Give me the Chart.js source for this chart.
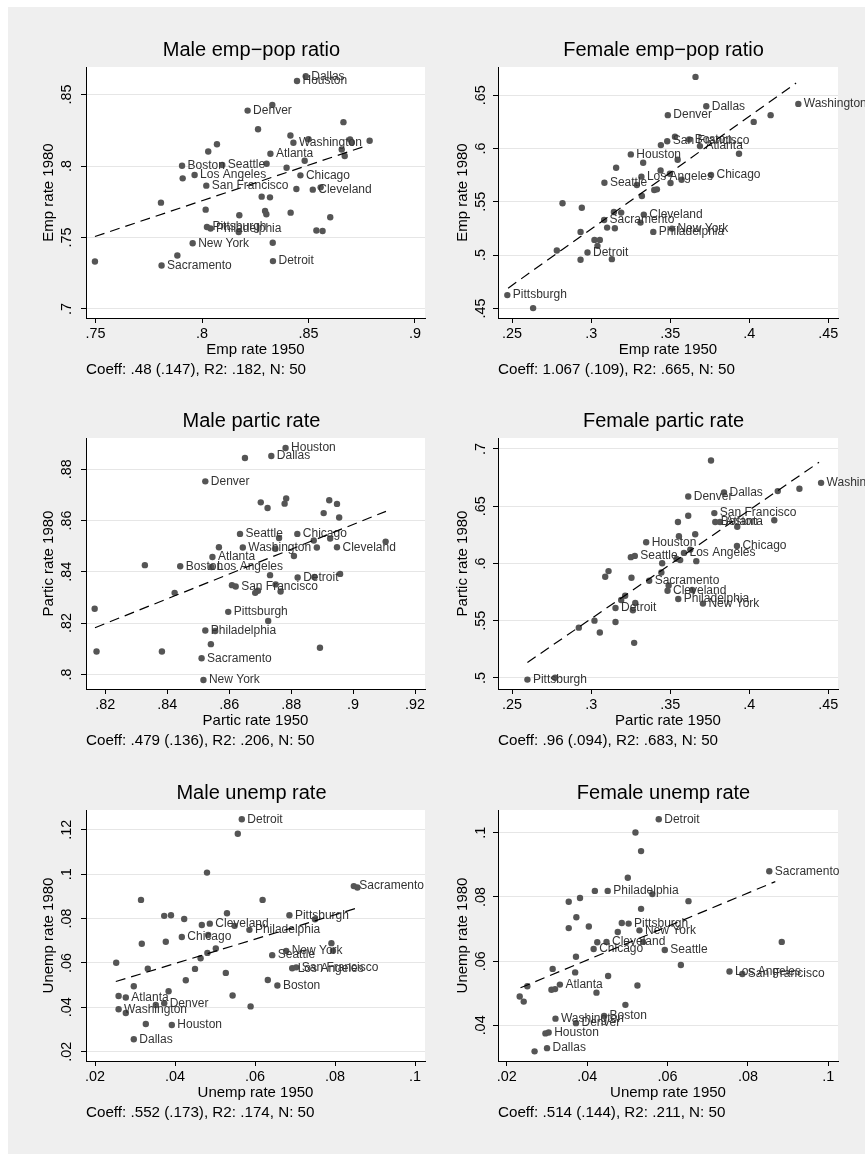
<!DOCTYPE html>
<html>
<head>
<meta charset="utf-8">
<script src="https://cdn.jsdelivr.net/npm/chart.js@4.4.1/dist/chart.umd.min.js"></script>
<style>
body { margin: 0; background: #fff; }
#fondo { position: absolute; left: 8px; top: 7px; width: 857px; height: 1147px; background: #efefef; }
canvas { position: absolute; }
</style>
</head>
<body>
<div id="fondo"></div>
<canvas id="g1" width="440" height="380" style="left:8px;top:7px"></canvas>
<canvas id="g2" width="445" height="380" style="left:420px;top:7px"></canvas>
<canvas id="g3" width="440" height="380" style="left:8px;top:378px"></canvas>
<canvas id="g4" width="445" height="380" style="left:420px;top:378px"></canvas>
<canvas id="g5" width="440" height="380" style="left:8px;top:750px"></canvas>
<canvas id="g6" width="445" height="380" style="left:420px;top:750px"></canvas>
<script>
// ciudades con etiqueta (mismo orden en todos los paneles)
const ciudades = ["Atlanta", "Boston", "Chicago", "Cleveland", "Dallas", "Denver", "Detroit", "Houston",
  "Los Angeles", "New York", "Philadelphia", "Pittsburgh", "Sacramento", "San Francisco", "Seattle", "Washington"];

// Male emp-pop ratio
const p1CiudadX = [.8321, .7906, .8462, .852, .8487, .8214, .8333, .8446, .7965, .7956, .804, .8023, .781, .802, .8095, .8429];
const p1CiudadY = [.8086, .8002, .7935, .7835, .8628, .8388, .7335, .8595, .7937, .746, .7563, .7574, .7304, .7863, .8007, .8163];
const p1RestoX = [.833, .8664, .8263, .8415, .85, .8695, .8703, .8787, .8656, .867, .807, .8029, .8482, .8303, .8397, .7909, .8443,
  .8557, .828, .8319, .7807, .8017, .8296, .8302, .8175, .8416, .8602, .8172, .8537, .8566, .8332, .7884, .7497];
const p1RestoY = [.8428, .8307, .8258, .8214, .8188, .8186, .8165, .8177, .8116, .807, .8153, .8102, .8037, .8016, .7988, .7914, .7839,
  .7851, .7786, .7781, .7744, .7695, .7686, .7663, .7656, .7674, .7642, .7539, .7549, .7546, .7463, .7374, .7332];
const p1AjusteX = [.7497, .878];
const p1AjusteY = [.7507, .8146];
const p1TicksX = [.75, .8, .85, .9];
const p1TicksY = [.7, .75, .8, .85];

// Female emp-pop ratio
const p2CiudadX = [.3688, .362, .3758, .3333, .3728, .3485, .2977, .3251, .3318, .3511, .3393, .247, .3082, .3481, .3084, .431];
const p2CiudadY = [.6023, .6085, .5751, .538, .6397, .6313, .5024, .5945, .5736, .5249, .5218, .4625, .533, .6069, .5679, .6419];
const p2RestoX = [.366, .4135, .4028, .353, .3441, .3935, .3547, .3329, .3158, .3439, .3498, .3572, .3289, .3502, .3399, .3416,
  .3321, .2819, .2941, .3144, .319, .3312, .3101, .315, .2933, .3021, .3055, .304, .2783, .2933, .3131, .2633];
const p2RestoY = [.6672, .6313, .625, .611, .6032, .5951, .5895, .5867, .582, .5795, .5764, .5707, .5658, .5676, .5611, .5617,
  .5555, .5486, .5445, .5405, .5399, .5305, .5258, .5252, .5218, .5143, .5143, .5087, .5043, .4956, .4962, .4503];
const p2AjusteX = [.2475, .4296];
const p2AjusteY = [.469, .6615];
const p2TicksX = [.25, .3, .35, .4, .45];
const p2TicksY = [.45, .5, .55, .6, .65];

// Male partic rate
const p3CiudadX = [.8546, .8442, .882, .8948, .8736, .8523, .8821, .8782, .8543, .8517, .8523, .8597, .8511, .8621, .8635, .8644];
const p3CiudadY = [.8458, .8422, .8548, .8496, .8852, .8753, .8378, .8883, .8419, .7978, .8171, .8244, .8063, .8343, .8548, .8495];
const p3RestoX = [.8651, .8702, .8724, .8784, .8779, .8923, .8948, .8905, .8955, .8761, .8873, .8926, .9105, .8567, .8749, .8883,
  .8809, .8328, .8732, .8875, .8958, .8609, .875, .8693, .8684, .8766, .8424, .8166, .8726, .8555, .8541, .8172, .8383, .8893];
const p3RestoY = [.8844, .8671, .8649, .8686, .8666, .8679, .8665, .8629, .8612, .8532, .8522, .853, .8518, .8496, .849, .8495,
  .8462, .8426, .8387, .838, .8392, .8348, .8351, .8326, .8318, .8323, .8318, .8256, .8208, .8169, .8118, .8089, .8089, .8104];
const p3AjusteX = [.8167, .9106];
const p3AjusteY = [.8182, .8636];
const p3TicksX = [.82, .84, .86, .88, .9, .92];
const p3TicksY = [.8, .82, .84, .86, .88];

// Female partic rate
const p4CiudadX = [.3815, .3785, .3922, .3483, .384, .3614, .3154, .3348, .3587, .3707, .3551, .2597, .3367, .3779, .3276, .4454];
const p4CiudadY = [.6362, .6362, .6153, .5762, .662, .6585, .5611, .6185, .6092, .5649, .5689, .4985, .5849, .644, .6066, .6704];
const p4RestoX = [.3758, .4317, .418, .3614, .3549, .3924, .4158, .3658, .3555, .3627, .3251, .354, .3563, .3665, .3449, .3444,
  .311, .3089, .3255, .349, .3639, .3215, .319, .3279, .3264, .3021, .2922, .3154, .3055, .3272, .2772];
const p4RestoY = [.6899, .6652, .6632, .6417, .6362, .6321, .6377, .6255, .6237, .6121, .6055, .604, .6029, .602, .6002, .5921,
  .5933, .5884, .5875, .5808, .5768, .5718, .568, .5654, .5591, .55, .5439, .5489, .5396, .5306, .5002];
const p4AjusteX = [.2597, .4441];
const p4AjusteY = [.5135, .6884];
const p4TicksX = [.25, .3, .35, .4, .45];
const p4TicksY = [.5, .55, .6, .65, .7];

// Male unemp rate
const p5CiudadX = [.0277, .0656, .0417, .0487, .0297, .0373, .0567, .0392, .0693, .0678, .0586, .0686, .0847, .0703, .0643, .0259];
const p5CiudadY = [.0444, .0498, .0717, .0777, .0256, .0418, .1247, .032, .0576, .0654, .0749, .0815, .0946, .058, .0635, .0391];
const p5RestoX = [.0557, .048, .0856, .0315, .0619, .053, .0373, .039, .0423, .0467, .0549, .075, .0483, .0317, .0377, .0791, .0502,
  .0481, .0795, .0464, .0253, .0332, .045, .0527, .0427, .0632, .0297, .0259, .0384, .0544, .0352, .0277, .0589, .0327];
const p5RestoY = [.1182, .1007, .094, .0884, .0884, .0824, .0812, .0815, .0798, .0771, .0767, .0797, .0726, .0686, .0695, .0689, .0665,
  .0645, .0655, .0621, .0601, .0574, .0573, .0555, .0522, .0523, .0495, .0451, .0472, .0453, .041, .0374, .0404, .0325];
const p5AjusteX = [.0252, .0851];
const p5AjusteY = [.0516, .0845];
const p5TicksX = [.02, .04, .06, .08, .1];
const p5TicksY = [.02, .04, .06, .08, .1, .12];

// Female unemp rate
const p6CiudadX = [.0332, .0442, .0416, .0448, .03, .0372, .0578, .0304, .0754, .053, .0451, .0503, .0853, .0786, .0593, .0321];
const p6CiudadY = [.0527, .0429, .0638, .066, .0329, .0407, .1042, .0378, .0568, .0696, .0819, .0717, .088, .056, .0635, .0421];
const p6RestoX = [.052, .0534, .0501, .0419, .0562, .0354, .0382, .0652, .0534, .0373, .0354, .0404, .0486, .0476, .0425, .0539,
  .0884, .0372, .0633, .0314, .037, .0452, .0251, .0311, .032, .0525, .0423, .0232, .0242, .0495, .0296, .0269];
const p6RestoY = [.1001, .0943, .086, .0819, .0809, .0785, .0797, .0787, .0763, .0737, .0703, .0708, .0719, .0691, .0659, .066,
  .066, .0614, .0588, .0576, .0565, .0554, .0522, .0511, .0513, .0524, .0502, .049, .0474, .0464, .0375, .0319];
const p6AjusteX = [.0234, .0868];
const p6AjusteY = [.0517, .0848];
const p6TicksX = [.02, .04, .06, .08, .1];
const p6TicksY = [.04, .06, .08, .1];

Chart.defaults.font.family = '"Liberation Sans", Arial, Helvetica, sans-serif';
Chart.defaults.color = '#000';

const puntos = (xs, ys) => xs.map((x, i) => ({ x: x, y: ys[i] }));
const etiqueta = v => String(+v.toFixed(4)).replace(/^0\./, '.');

// fondo blanco del area de datos
const fondoBlanco = {
  id: 'fondoBlanco',
  beforeDraw(chart) {
    const a = chart.chartArea;
    chart.ctx.save();
    chart.ctx.fillStyle = '#fff';
    chart.ctx.fillRect(a.left, a.top, a.right - a.left, a.bottom - a.top);
    chart.ctx.restore();
  }
};

// nombre de la ciudad a la derecha del punto
const nombres = {
  id: 'nombres',
  afterDatasetDraw(chart, args) {
    if (args.index !== 1) return;
    const ctx = chart.ctx;
    ctx.save();
    ctx.font = '12px "Liberation Sans", Arial, sans-serif';
    ctx.fillStyle = '#333';
    ctx.textBaseline = 'middle';
    args.meta.data.forEach((pt, i) => {
      ctx.fillText(ciudades[i], pt.x + 5.5, pt.y);
    });
    ctx.restore();
  }
};

// margen derecho vacio (extra) para centrar el titulo como en el original
const columnas = [
  { padL: 50, derecha: 417, ancho: 440, tituloY: 41, padTick: 4, extra: 20 },
  { padL: 50, derecha: 418, ancho: 445, tituloY: 43, padTick: 2, extra: 19 }
];

const paneles = [
  { id: 'g1', col: 0, titulo: 'Male emp\u2212pop ratio', ejeX: 'Emp rate 1950', ejeY: 'Emp rate 1980',
    nota: 'Coeff: .48 (.147), R2: .182, N: 50', minX: .7455, maxX: .9047, minY: .6937, maxY: .8693,
    cx: p1CiudadX, cy: p1CiudadY, rx: p1RestoX, ry: p1RestoY, ax: p1AjusteX, ay: p1AjusteY, tx: p1TicksX, ty: p1TicksY },
  { id: 'g2', col: 1, titulo: 'Female emp\u2212pop ratio', ejeX: 'Emp rate 1950', ejeY: 'Emp rate 1980',
    nota: 'Coeff: 1.067 (.109), R2: .665, N: 50', minX: .2411, maxX: .4561, minY: .441, maxY: .6765,
    cx: p2CiudadX, cy: p2CiudadY, rx: p2RestoX, ry: p2RestoY, ax: p2AjusteX, ay: p2AjusteY, tx: p2TicksX, ty: p2TicksY },
  { id: 'g3', col: 0, titulo: 'Male partic rate', ejeX: 'Partic rate 1950', ejeY: 'Partic rate 1980',
    nota: 'Coeff: .479 (.136), R2: .206, N: 50', minX: .8138, maxX: .9232, minY: .7943, maxY: .8922,
    cx: p3CiudadX, cy: p3CiudadY, rx: p3RestoX, ry: p3RestoY, ax: p3AjusteX, ay: p3AjusteY, tx: p3TicksX, ty: p3TicksY },
  { id: 'g4', col: 1, titulo: 'Female partic rate', ejeX: 'Partic rate 1950', ejeY: 'Partic rate 1980',
    nota: 'Coeff: .96 (.094), R2: .683, N: 50', minX: .2411, maxX: .4561, minY: .4903, maxY: .7096,
    cx: p4CiudadX, cy: p4CiudadY, rx: p4RestoX, ry: p4RestoY, ax: p4AjusteX, ay: p4AjusteY, tx: p4TicksX, ty: p4TicksY },
  { id: 'g5', col: 0, titulo: 'Male unemp rate', ejeX: 'Unemp rate 1950', ejeY: 'Unemp rate 1980',
    nota: 'Coeff: .552 (.173), R2: .174, N: 50', minX: .01775, maxX: .1025, minY: .0158, maxY: .1289,
    cx: p5CiudadX, cy: p5CiudadY, rx: p5RestoX, ry: p5RestoY, ax: p5AjusteX, ay: p5AjusteY, tx: p5TicksX, ty: p5TicksY },
  { id: 'g6', col: 1, titulo: 'Female unemp rate', ejeX: 'Unemp rate 1950', ejeY: 'Unemp rate 1980',
    nota: 'Coeff: .514 (.144), R2: .211, N: 50', minX: .0178, maxX: .1024, minY: .0289, maxY: .1071,
    cx: p6CiudadX, cy: p6CiudadY, rx: p6RestoX, ry: p6RestoY, ax: p6AjusteX, ay: p6AjusteY, tx: p6TicksX, ty: p6TicksY }
];

const marca = { pointRadius: 3.2, pointBackgroundColor: '#555', pointBorderWidth: 0, clip: false };

paneles.forEach(p => {
  const c = columnas[p.col];
  const alto = 380;
  new Chart(document.getElementById(p.id), {
    type: 'scatter',
    data: {
      datasets: [
        { data: puntos(p.rx, p.ry), order: 3, ...marca },
        { data: puntos(p.cx, p.cy), order: 2, ...marca },
        { data: puntos(p.ax, p.ay), order: 1, showLine: true, pointRadius: 0, borderColor: '#000',
          borderWidth: 1.2, borderDash: [10, 6], clip: false }
      ]
    },
    options: {
      responsive: false,
      animation: false,
      devicePixelRatio: 1,
      events: [],
      layout: { padding: { left: c.padL, right: c.ancho - c.derecha - c.extra, top: 31.8, bottom: alto - 311 - 42 - 18.82 } },
      plugins: {
        legend: { display: false },
        tooltip: { enabled: false },
        title: { display: true, text: p.titulo, font: { size: 20, weight: 'normal' },
          padding: { top: 0, bottom: 4.2 } },
        subtitle: { display: true, text: p.nota, position: 'bottom', fullSize: false, align: 'start',
          font: { size: 15.2 }, padding: { top: 0.58, bottom: 0 } }
      },
      scales: {
        x: {
          min: p.minX, max: p.maxX,
          afterBuildTicks: s => { s.ticks = p.tx.map(v => ({ value: v })); },
          afterFit: s => { s.height = 42; },
          grid: { drawOnChartArea: false, tickLength: 5, tickColor: '#000', tickWidth: 1 },
          border: { color: '#000', width: 1 },
          ticks: { callback: etiqueta, font: { size: 14.4 }, padding: 2.8, maxRotation: 0, autoSkip: false },
          title: { display: true, text: p.ejeX, font: { size: 15 }, padding: { top: 0, bottom: 1.3 } }
        },
        y: {
          min: p.minY, max: p.maxY,
          afterBuildTicks: s => { s.ticks = p.ty.map(v => ({ value: v })); },
          afterFit: s => { s.width = 78 - c.padL; },
          grid: { color: '#e6e6e6', lineWidth: 1, tickLength: 5, tickColor: '#000', tickWidth: 1 },
          border: { color: '#000', width: 1 },
          ticks: { callback: etiqueta, font: { size: 14.4 }, minRotation: 90, maxRotation: 90, crossAlign: 'center',
            padding: c.padTick, autoSkip: false },
          title: { display: true, text: p.ejeY, font: { size: 15 }, padding: { top: c.tituloY - c.padL - 9, bottom: 0 } }
        },
        margen: {
          axis: 'y', position: 'right', display: true,
          ticks: { display: false }, grid: { display: false }, border: { display: false },
          afterFit: s => { s.width = c.extra; }
        }
      }
    },
    plugins: [fondoBlanco, nombres]
  });
});
</script>
</body>
</html>
